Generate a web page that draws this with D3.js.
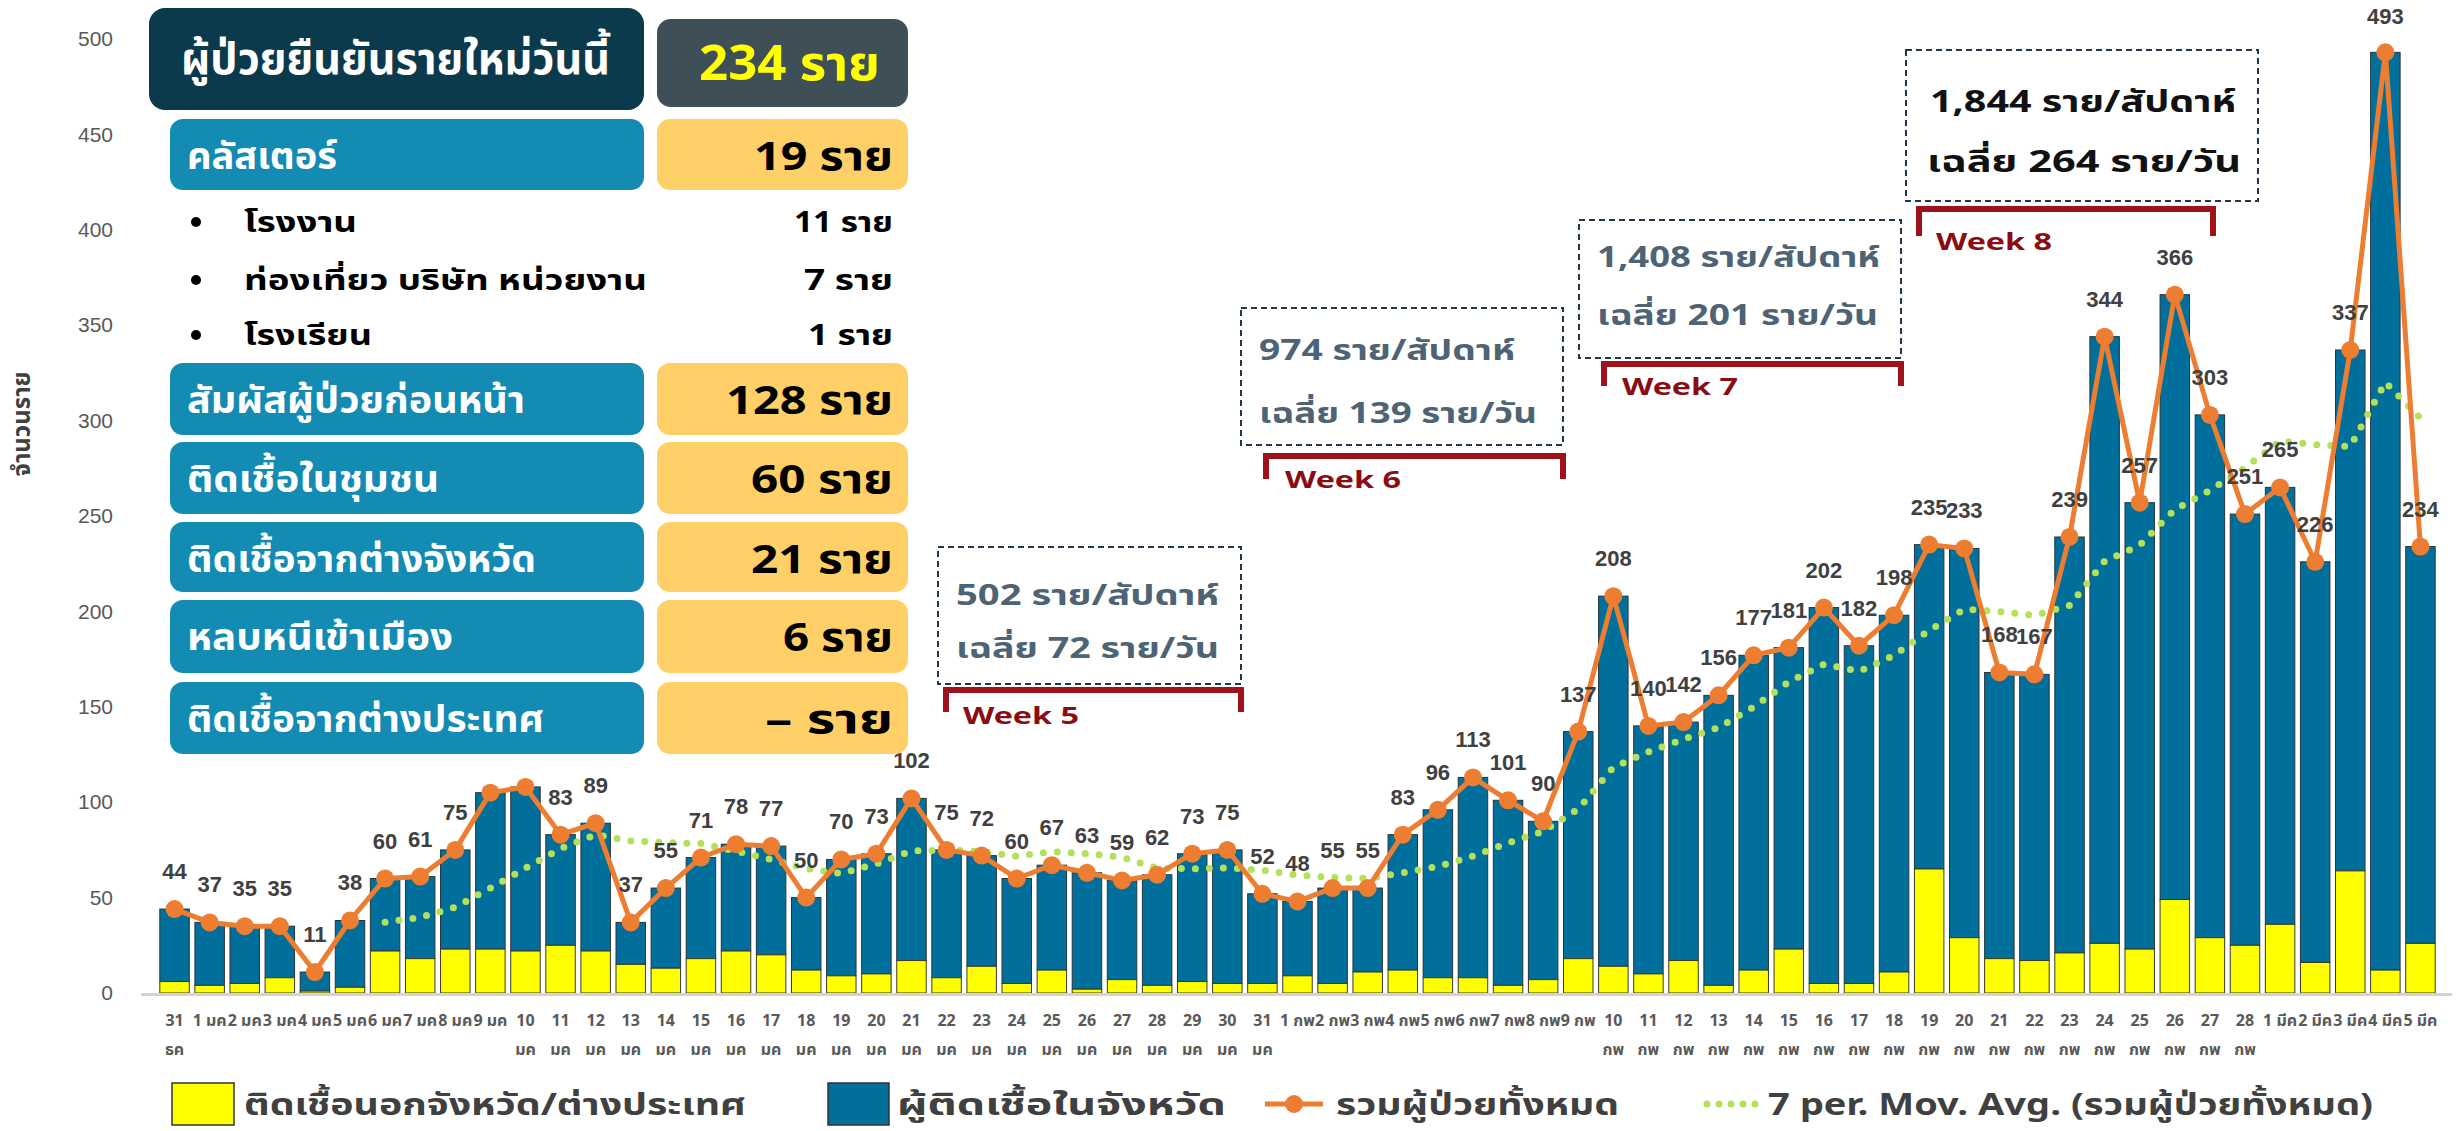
<!DOCTYPE html>
<html lang="th">
<head>
    <meta charset="utf-8" />
    <title>ผู้ป่วยยืนยันรายใหม่</title>
    <style>
        body { margin: 0; background: #fff; }
        svg { display: block; font-family: "Noto Sans Thai", "Noto Sans", "Liberation Sans", sans-serif; }
        .num { font-family: "Liberation Sans", "Noto Sans Thai", sans-serif; }
        .axis path, .axis line { fill: none; }
    </style>
</head>
<body>
    <div id="graph"></div>
    <script src="https://d3js.org/d3.v7.min.js"></script>
    <script>
        // categories (date labels)
        var dates = ["31 ธค", "1 มค", "2 มค", "3 มค", "4 มค", "5 มค", "6 มค", "7 มค", "8 มค", "9 มค",
            "10 มค", "11 มค", "12 มค", "13 มค", "14 มค", "15 มค", "16 มค", "17 มค", "18 มค", "19 มค",
            "20 มค", "21 มค", "22 มค", "23 มค", "24 มค", "25 มค", "26 มค", "27 มค", "28 มค", "29 มค",
            "30 มค", "31 มค", "1 กพ", "2 กพ", "3 กพ", "4 กพ", "5 กพ", "6 กพ", "7 กพ", "8 กพ",
            "9 กพ", "10 กพ", "11 กพ", "12 กพ", "13 กพ", "14 กพ", "15 กพ", "16 กพ", "17 กพ", "18 กพ",
            "19 กพ", "20 กพ", "21 กพ", "22 กพ", "23 กพ", "24 กพ", "25 กพ", "26 กพ", "27 กพ", "28 กพ",
            "1 มีค", "2 มีค", "3 มีค", "4 มีค", "5 มีค"];

        // รวมผู้ป่วยทั้งหมด
        var total = [44, 37, 35, 35, 11, 38, 60, 61, 75, 105,
            108, 83, 89, 37, 55, 71, 78, 77, 50, 70,
            73, 102, 75, 72, 60, 67, 63, 59, 62, 73,
            75, 52, 48, 55, 55, 83, 96, 113, 101, 90,
            137, 208, 140, 142, 156, 177, 181, 202, 182, 198,
            235, 233, 168, 167, 239, 344, 257, 366, 303, 251,
            265, 226, 337, 493, 234];

        // ติดเชื้อนอกจังหวัด/ต่างประเทศ (yellow part)
        var outside = [6, 4, 5, 8, 1, 3, 22, 18, 23, 23,
            22, 25, 22, 15, 13, 18, 22, 20, 12, 9,
            10, 17, 8, 14, 5, 12, 2, 7, 4, 6,
            5, 5, 9, 5, 11, 12, 8, 8, 4, 7,
            18, 14, 10, 17, 4, 12, 23, 5, 5, 11,
            65, 29, 18, 17, 21, 26, 23, 49, 29, 25,
            36, 16, 64, 12, 26];

        // 7 per. Mov. Avg. (read from the dotted trend)
        var movAvg = [null, null, null, null, null, null, 37.1, 39.6, 45.0, 55.0,
            65.4, 75.7, 83.0, 79.7, 78.9, 78.3, 74.4, 70.0, 65.3, 62.6,
            67.7, 74.4, 75.0, 74.1, 71.7, 74.1, 73.1, 71.1, 65.4, 65.1,
            65.6, 64.4, 61.7, 60.6, 60.0, 63.0, 66.3, 71.7, 78.7, 84.7,
            96.4, 118.3, 126.4, 133.0, 139.1, 150.0, 163.0, 172.3, 168.6, 176.9,
            190.1, 201.1, 199.9, 197.9, 203.1, 226.3, 234.7, 253.4, 263.4, 275.3,
            289.3, 287.4, 286.4, 320.1, 301.3];

        var hiddenLabels = ["9 มค", "10 มค"];
        var yTicks = [0, 50, 100, 150, 200, 250, 300, 350, 400, 450, 500];

        var legendNames = ["ติดเชื้อนอกจังหวัด/ต่างประเทศ", "ผู้ติดเชื้อในจังหวัด", "รวมผู้ป่วยทั้งหมด", "7 per. Mov. Avg. (รวมผู้ป่วยทั้งหมด)"];

        // summary table
        var headLabel = "ผู้ป่วยยืนยันรายใหม่วันนี้";
        var headValue = "234 ราย";
        var rowLabels = ["คลัสเตอร์", "สัมผัสผู้ป่วยก่อนหน้า", "ติดเชื้อในชุมชน", "ติดเชื้อจากต่างจังหวัด", "หลบหนีเข้าเมือง", "ติดเชื้อจากต่างประเทศ"];
        var rowValues = ["19 ราย", "128 ราย", "60 ราย", "21 ราย", "6 ราย", "– ราย"];
        var clusterItems = ["โรงงาน", "ท่องเที่ยว บริษัท หน่วยงาน", "โรงเรียน"];
        var clusterValues = ["11 ราย", "7 ราย", "1 ราย"];

        // weekly notes
        var weekNames = ["Week 5", "Week 6", "Week 7", "Week 8"];
        var weekTotals = ["502 ราย/สัปดาห์", "974 ราย/สัปดาห์", "1,408 ราย/สัปดาห์", "1,844 ราย/สัปดาห์"];
        var weekAvgs = ["เฉลี่ย 72 ราย/วัน", "เฉลี่ย 139 ราย/วัน", "เฉลี่ย 201 ราย/วัน", "เฉลี่ย 264 ราย/วัน"];

        var width = 2464, height = 1131;
        var blue = "#006f9b", yellow = "#ffff00", orange = "#ed7d31", green = "#b4e05a";

        var svg = d3.select("#graph").append("svg")
            .attr("width", width)
            .attr("height", height);

        var x = d3.scaleBand()
            .domain(dates)
            .range([157, 2438])
            .paddingInner(0.16)
            .paddingOuter(0.08);

        var y = d3.scaleLinear()
            .domain([0, 500])
            .range([993, 39]);

        var cx = function (d) { return x(d) + x.bandwidth() / 2; };

        // y axis
        var yAxis = d3.axisLeft(y).tickValues(yTicks).tickSize(0).tickPadding(8);
        var gy = svg.append("g")
            .attr("class", "axis num")
            .attr("transform", "translate(121,0)")
            .call(yAxis);
        gy.select(".domain").remove();
        gy.selectAll("text")
            .attr("fill", "#595959")
            .style("font-size", "21px")
            .style("font-family", "Liberation Sans, sans-serif");

        svg.append("text")
            .attr("transform", "translate(30,424) rotate(-90)")
            .attr("text-anchor", "middle")
            .attr("font-size", 24)
            .attr("font-weight", 700)
            .attr("fill", "#404040")
            .text("จำนวนราย");

        // bars
        svg.selectAll(".bar-in")
            .data(dates)
            .enter()
            .append("rect")
            .attr("class", "bar-in")
            .attr("x", function (d) { return x(d); })
            .attr("width", x.bandwidth())
            .attr("y", function (d, i) { return y(total[i]); })
            .attr("height", function (d, i) { return y(outside[i]) - y(total[i]); })
            .attr("fill", blue)
            .attr("stroke", "#27343c")
            .attr("stroke-width", 1);

        svg.selectAll(".bar-out")
            .data(dates)
            .enter()
            .append("rect")
            .attr("class", "bar-out")
            .attr("x", function (d) { return x(d); })
            .attr("width", x.bandwidth())
            .attr("y", function (d, i) { return y(outside[i]); })
            .attr("height", function (d, i) { return y(0) - y(outside[i]); })
            .attr("fill", yellow)
            .attr("stroke", "#3a3a2a")
            .attr("stroke-width", 1);

        // x axis
        var xAxis = d3.axisBottom(x).tickSize(0).tickFormat("");
        var gx = svg.append("g")
            .attr("class", "axis")
            .attr("transform", "translate(0," + y(0) + ")")
            .call(xAxis);
        gx.select(".domain")
            .attr("stroke", "#d4d4d4")
            .attr("stroke-width", 3)
            .attr("d", "M141,1.5H2452");

        var xl = svg.append("g").attr("class", "xlabels");
        dates.forEach(function (d) {
            var parts = d.split(" ");
            var t = xl.append("text")
                .attr("x", cx(d))
                .attr("y", 1026)
                .attr("text-anchor", "middle")
                .attr("font-size", 16)
                .attr("font-weight", 700)
                .attr("fill", "#595959");
            if (parts[0].length < 2) {
                t.text(d);
            } else {
                t.text(parts[0]);
                xl.append("text")
                    .attr("x", cx(d))
                    .attr("y", 1055)
                    .attr("text-anchor", "middle")
                    .attr("font-size", 16)
                    .attr("font-weight", 700)
                    .attr("fill", "#595959")
                    .text(parts[1]);
            }
        });

        // moving average
        var maLine = d3.line()
            .defined(function (d, i) { return movAvg[i] !== null; })
            .x(function (d) { return cx(d); })
            .y(function (d, i) { return y(movAvg[i]); });

        svg.append("path")
            .datum(dates)
            .attr("d", maLine)
            .attr("fill", "none")
            .attr("stroke", green)
            .attr("stroke-width", 7)
            .attr("stroke-linecap", "round")
            .attr("stroke-dasharray", "0 14");

        // total line
        var totLine = d3.line()
            .x(function (d) { return cx(d); })
            .y(function (d, i) { return y(total[i]); });

        svg.append("path")
            .datum(dates)
            .attr("d", totLine)
            .attr("fill", "none")
            .attr("stroke", orange)
            .attr("stroke-width", 5)
            .attr("stroke-linejoin", "round");

        svg.selectAll(".dot")
            .data(dates)
            .enter()
            .append("circle")
            .attr("class", "dot")
            .attr("cx", function (d) { return cx(d); })
            .attr("cy", function (d, i) { return y(total[i]); })
            .attr("r", 9)
            .attr("fill", orange);

        svg.selectAll(".vlabel")
            .data(dates.filter(function (d) { return hiddenLabels.indexOf(d) < 0; }))
            .enter()
            .append("text")
            .attr("class", "vlabel num")
            .attr("x", function (d) { return cx(d); })
            .attr("y", function (d) { return Math.max(24, y(total[dates.indexOf(d)]) - 30); })
            .attr("text-anchor", "middle")
            .attr("font-size", 22)
            .attr("font-weight", 700)
            .attr("fill", "#404040")
            .text(function (d) { return total[dates.indexOf(d)]; });

        // helper for squeezed text
        function fitText(g, str, tx, ty, len, size, fill, anchor) {
            return g.append("text")
                .attr("x", tx)
                .attr("y", ty)
                .attr("font-size", size)
                .attr("font-weight", 700)
                .attr("fill", fill)
                .attr("text-anchor", anchor || "start")
                .attr("textLength", len)
                .attr("lengthAdjust", "spacingAndGlyphs")
                .text(str);
        }

        // summary table
        var tb = svg.append("g").attr("class", "table");
        tb.append("rect").attr("x", 149).attr("y", 8).attr("width", 495).attr("height", 102)
            .attr("rx", 16).attr("fill", "#0b3a4c");
        fitText(tb, headLabel, 181, 74, 429, 44, "#ffffff");
        tb.append("rect").attr("x", 657).attr("y", 19).attr("width", 251).attr("height", 88)
            .attr("rx", 14).attr("fill", "#3e4f58");
        fitText(tb, headValue, 880, 80, 181, 48, "#ffff00", "end");

        var rowTops = [119, 363, 442, 522, 600, 682];
        var rowH = [71, 72, 72, 70, 73, 72];
        var rowLens = [150, 338, 252, 349, 266, 357];
        var valLens = [139, 167, 142, 142, 110, 128];
        rowLabels.forEach(function (lab, i) {
            tb.append("rect").attr("x", 170).attr("y", rowTops[i]).attr("width", 474).attr("height", rowH[i])
                .attr("rx", 13).attr("fill", "#138bb3");
            fitText(tb, lab, 187, rowTops[i] + 50, rowLens[i], 38, "#ffffff");
            tb.append("rect").attr("x", 657).attr("y", rowTops[i]).attr("width", 251).attr("height", rowH[i])
                .attr("rx", 13).attr("fill", "#fed067");
            fitText(tb, rowValues[i], 893, rowTops[i] + 51, valLens[i], 40, "#000000", "end");
        });

        var itemBase = [232, 290, 345];
        var itemLens = [113, 403, 128];
        var itemValLens = [99, 89, 85];
        clusterItems.forEach(function (it, i) {
            tb.append("circle").attr("cx", 196).attr("cy", itemBase[i] - 10).attr("r", 5).attr("fill", "#000");
            fitText(tb, it, 244, itemBase[i], itemLens[i], 28, "#000000");
            fitText(tb, clusterValues[i], 893, itemBase[i], itemValLens[i], 28, "#000000", "end");
        });

        // weekly annotation boxes
        var boxes = [[938, 547, 303, 137], [1241, 308, 322, 137], [1579, 220, 322, 138], [1906, 50, 352, 151]];
        var line1 = [605, 360, 267, 112];
        var line2 = [658, 423, 325, 172];
        var len1 = [263, 256, 283, 306];
        var len2 = [263, 278, 281, 314];
        var brackets = [[946, 1241, 690, 712], [1266, 1563, 456, 479], [1604, 1901, 364, 386], [1919, 2213, 209, 236]];
        var weekPos = [[963, 724], [1285, 488], [1622, 395], [1936, 250]];
        var wk = svg.append("g").attr("class", "weeks");
        weekNames.forEach(function (w, i) {
            var b = boxes[i];
            var dark = i === 3;
            wk.append("rect").attr("x", b[0]).attr("y", b[1]).attr("width", b[2]).attr("height", b[3])
                .attr("fill", "#fff").attr("stroke", "#22384a").attr("stroke-width", 2)
                .attr("stroke-dasharray", "6,4");
            fitText(wk, weekTotals[i], b[0] + (dark ? 24 : 18), line1[i], len1[i], dark ? 30 : 28, dark ? "#111" : "#4e6474");
            fitText(wk, weekAvgs[i], b[0] + (dark ? 21 : 18), line2[i], len2[i], dark ? 30 : 28, dark ? "#111" : "#4e6474");
            var k = brackets[i];
            wk.append("path")
                .attr("d", "M" + k[0] + "," + k[3] + "V" + k[2] + "H" + k[1] + "V" + k[3])
                .attr("fill", "none").attr("stroke", "#a0121b").attr("stroke-width", 6);
            fitText(wk, w, weekPos[i][0], weekPos[i][1], 116, 24, "#8a0d12");
        });

        // legend
        var lg = svg.append("g").attr("class", "legend");
        lg.append("rect").attr("x", 172).attr("y", 1083).attr("width", 62).attr("height", 42)
            .attr("fill", yellow).attr("stroke", "#333").attr("stroke-width", 1.5);
        fitText(lg, legendNames[0], 244, 1115, 502, 30, "#404040");
        lg.append("rect").attr("x", 828).attr("y", 1083).attr("width", 61).attr("height", 42)
            .attr("fill", blue).attr("stroke", "#333").attr("stroke-width", 1.5);
        fitText(lg, legendNames[1], 897, 1115, 329, 30, "#404040");
        lg.append("line").attr("x1", 1265).attr("x2", 1323).attr("y1", 1104).attr("y2", 1104)
            .attr("stroke", orange).attr("stroke-width", 5);
        lg.append("circle").attr("cx", 1294).attr("cy", 1104).attr("r", 9).attr("fill", orange);
        fitText(lg, legendNames[2], 1336, 1115, 283, 30, "#404040");
        lg.append("line").attr("x1", 1707).attr("x2", 1757).attr("y1", 1104).attr("y2", 1104)
            .attr("stroke", green).attr("stroke-width", 7).attr("stroke-linecap", "round")
            .attr("stroke-dasharray", "0 12");
        fitText(lg, legendNames[3], 1768, 1115, 605, 30, "#404040");
    </script>
</body>
</html>
